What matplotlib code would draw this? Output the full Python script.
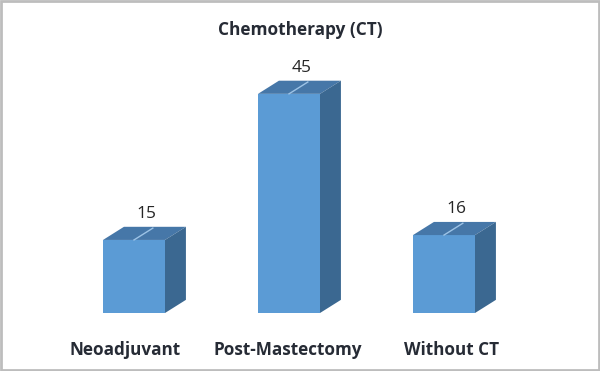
import matplotlib.pyplot as plt
from matplotlib.patches import Polygon, Rectangle

categories = ['Neoadjuvant', 'Post-Mastectomy', 'Without CT']
values = [15, 45, 16]

front_col = '#5b9bd5'
top_col = '#4677a8'
side_col = '#3b6891'

fig = plt.figure(figsize=(6, 3.71), dpi=100)
ax = fig.add_axes([0, 0, 1, 1])
# axis scale chosen so 1 unit = 155 px in x, 4.87 px in y
ax.set_xlim(-134 / 155, (600 - 134) / 155)
ax.set_ylim(-58 / 4.87, (371 - 58) / 4.87)
ax.axis('off')

w = 0.4
dx = 0.135
dy = 2.7
xs = range(len(values))
label_shift = [-0.06, -0.01, 0.05]

ax.bar(xs, values, width=w, color=front_col, zorder=3)
for x, v in zip(xs, values):
    l, r = x - w / 2, x + w / 2
    # top face
    ax.add_patch(Polygon([(l, v), (r, v), (r + dx, v + dy), (l + dx, v + dy)],
                         closed=True, facecolor=top_col, edgecolor='none', zorder=3))
    # side face
    ax.add_patch(Polygon([(r, 0), (r + dx, dy), (r + dx, v + dy), (r, v)],
                         closed=True, facecolor=side_col, edgecolor='none', zorder=3))
    # leader line across the top
    ax.plot([x, x + dx * 0.9], [v, v + dy * 0.9], color='#9dc3e6', lw=1, zorder=4)
    ax.text(x + dx * 0.6, v + dy + 1.0, str(v), ha='center', va='bottom',
            fontsize=12.5, color='#262626', family='Open Sans', zorder=5)

for x, c, s in zip(xs, categories, label_shift):
    ax.text(x + s, -7.5, c, ha='center', va='center',
            fontsize=12.3, fontweight='bold', color='#262b35', family='Open Sans')

fig.text(0.5, 0.92, 'Chemotherapy (CT)', ha='center', va='center',
         fontsize=12.4, fontweight='bold', color='#262b35', family='Open Sans')

# light frame around the picture
fig.patches.append(Rectangle((0.002, 0.003), 0.996, 0.994, transform=fig.transFigure,
                             fill=False, edgecolor='#bdbdbd', lw=2))

fig.savefig('out.png', dpi=100)
